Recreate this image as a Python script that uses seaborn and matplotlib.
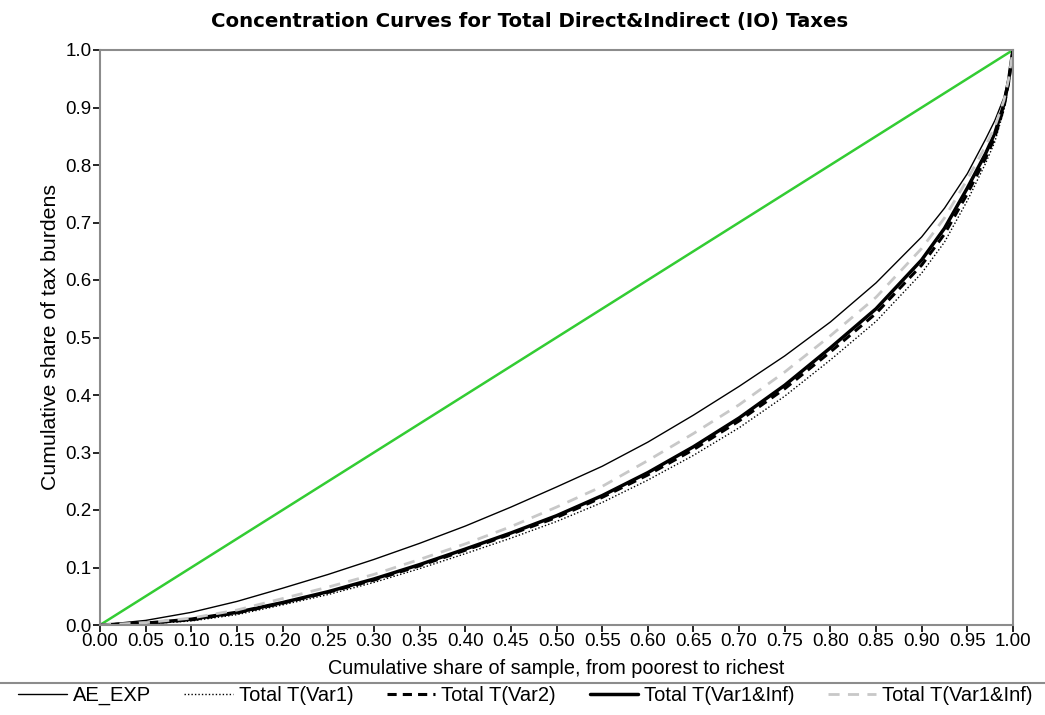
import matplotlib
matplotlib.use("Agg")
import matplotlib.pyplot as plt
from matplotlib.lines import Line2D
import seaborn as sns
import pandas as pd
import numpy as np

# ---- data ----
pop_share = [0.00, 0.05, 0.10, 0.15, 0.20, 0.25, 0.30, 0.35, 0.40, 0.45, 0.50,
             0.55, 0.60, 0.65, 0.70, 0.75, 0.80, 0.85, 0.90, 0.925, 0.95, 0.97,
             0.98, 0.99, 0.995, 1.00]
ae_exp = [0.000, 0.008, 0.022, 0.041, 0.064, 0.088, 0.114, 0.142, 0.172, 0.205,
          0.240, 0.276, 0.318, 0.365, 0.415, 0.468, 0.527, 0.595, 0.675, 0.725,
          0.785, 0.845, 0.877, 0.917, 0.952, 1.000]
total_var1 = [0.000, 0.002, 0.007, 0.018, 0.035, 0.053, 0.074, 0.098, 0.124, 0.151,
              0.180, 0.213, 0.252, 0.295, 0.343, 0.398, 0.461, 0.528, 0.612, 0.666,
              0.738, 0.803, 0.840, 0.895, 0.940, 1.000]
total_var2 = [0.000, 0.003, 0.009, 0.021, 0.038, 0.057, 0.078, 0.103, 0.130, 0.158,
              0.187, 0.222, 0.261, 0.305, 0.355, 0.411, 0.475, 0.542, 0.626, 0.680,
              0.750, 0.812, 0.848, 0.900, 0.942, 1.000]
total_var1_inf = [0.000, 0.003, 0.010, 0.022, 0.039, 0.058, 0.080, 0.105, 0.132, 0.160,
                  0.190, 0.225, 0.265, 0.310, 0.360, 0.417, 0.482, 0.550, 0.635, 0.690,
                  0.760, 0.820, 0.855, 0.905, 0.945, 1.000]
total_var1_inf2 = [0.000, 0.004, 0.012, 0.026, 0.046, 0.066, 0.088, 0.114, 0.141, 0.171,
                   0.205, 0.241, 0.286, 0.333, 0.383, 0.440, 0.503, 0.570, 0.655, 0.708,
                   0.775, 0.833, 0.866, 0.912, 0.948, 1.000]
equality_x = [0.0, 1.0]
equality_y = [0.0, 1.0]

series_labels = ["AE_EXP", "Total T(Var1)", "Total T(Var2)", "Total T(Var1&Inf)", "Total T(Var1&Inf)"]
x_ticks = [round(v, 2) for v in np.arange(0, 1.0001, 0.05)]
y_ticks = [round(v, 1) for v in np.arange(0, 1.0001, 0.1)]

title = "Concentration Curves for Total Direct&Indirect (IO) Taxes"
xlabel = "Cumulative share of sample, from poorest to richest"
ylabel = "Cumulative share of tax burdens"

# ---- style ----
sns.set_style("white")
plt.rcParams['font.family'] = ['Liberation Sans', 'DejaVu Sans']
plt.rcParams['text.color'] = 'black'
plt.rcParams['axes.labelcolor'] = 'black'
plt.rcParams['xtick.color'] = 'black'
plt.rcParams['ytick.color'] = 'black'

fig = plt.figure(figsize=(10.45, 7.15), dpi=100)
ax = fig.add_axes([100/1045, 1-625/715, (1013-100)/1045, (625-50)/715])

# equality line
sns.lineplot(x=equality_x, y=equality_y, ax=ax, color="#33cc33", linewidth=1.8,
             legend=False)

styles = [
    dict(color="black", linewidth=1.0, linestyle="-"),
    dict(color="black", linewidth=1.0, linestyle=(0, (1, 1.5))),
    dict(color="black", linewidth=2.2, linestyle=(0, (3, 2))),
    dict(color="black", linewidth=2.5, linestyle="-"),
    dict(color="#c8c8c8", linewidth=2.0, linestyle=(0, (4, 3))),
]
data_series = [ae_exp, total_var1, total_var2, total_var1_inf, total_var1_inf2]
handles = []
for vals, lab, st in zip(data_series, series_labels, styles):
    df = pd.DataFrame({"p": pop_share, "c": vals})
    sns.lineplot(data=df, x="p", y="c", ax=ax, legend=False, **st)
    handles.append(Line2D([0], [0], **st, label=lab))

ax.set_xlim(0, 1)
ax.set_ylim(0, 1)
ax.set_xticks(x_ticks)
ax.set_xticklabels([f"{v:.2f}" for v in x_ticks])
ax.set_yticks(y_ticks)
ax.set_yticklabels([f"{v:.1f}" for v in y_ticks])
ax.tick_params(axis="both", direction="out", length=5, width=1.2, color="black",
               pad=1, bottom=True, left=True, labelcolor="black")
ax.tick_params(axis="x", labelsize=13.5)
ax.tick_params(axis="y", labelsize=13.5)
for sp in ax.spines.values():
    sp.set_color("#8c8c8c")
    sp.set_linewidth(1.5)
ax.set_xlabel(xlabel, fontsize=14.3, labelpad=6, color="black")
ax.set_ylabel(ylabel, fontsize=15.3, labelpad=4, color="black")

fig.text(530/1045, 1-21/715, title, ha="center", va="center", fontsize=14.2,
         fontweight="bold", family=['DejaVu Sans'], color="black")

# separator line above legend
fig.add_artist(Line2D([0, 1], [1-683/715, 1-683/715], transform=fig.transFigure,
                      color="#8c8c8c", linewidth=1.5))

fig.legend(handles=handles, loc="lower left", ncol=5, mode="expand",
           bbox_to_anchor=(0.008, 0.0, 0.99, 0.045), frameon=False,
           fontsize=14.5, handlelength=2.4, handletextpad=0.3, borderaxespad=0.1,
           columnspacing=0.8, labelcolor="black")

fig.savefig("out.png", dpi=100)
